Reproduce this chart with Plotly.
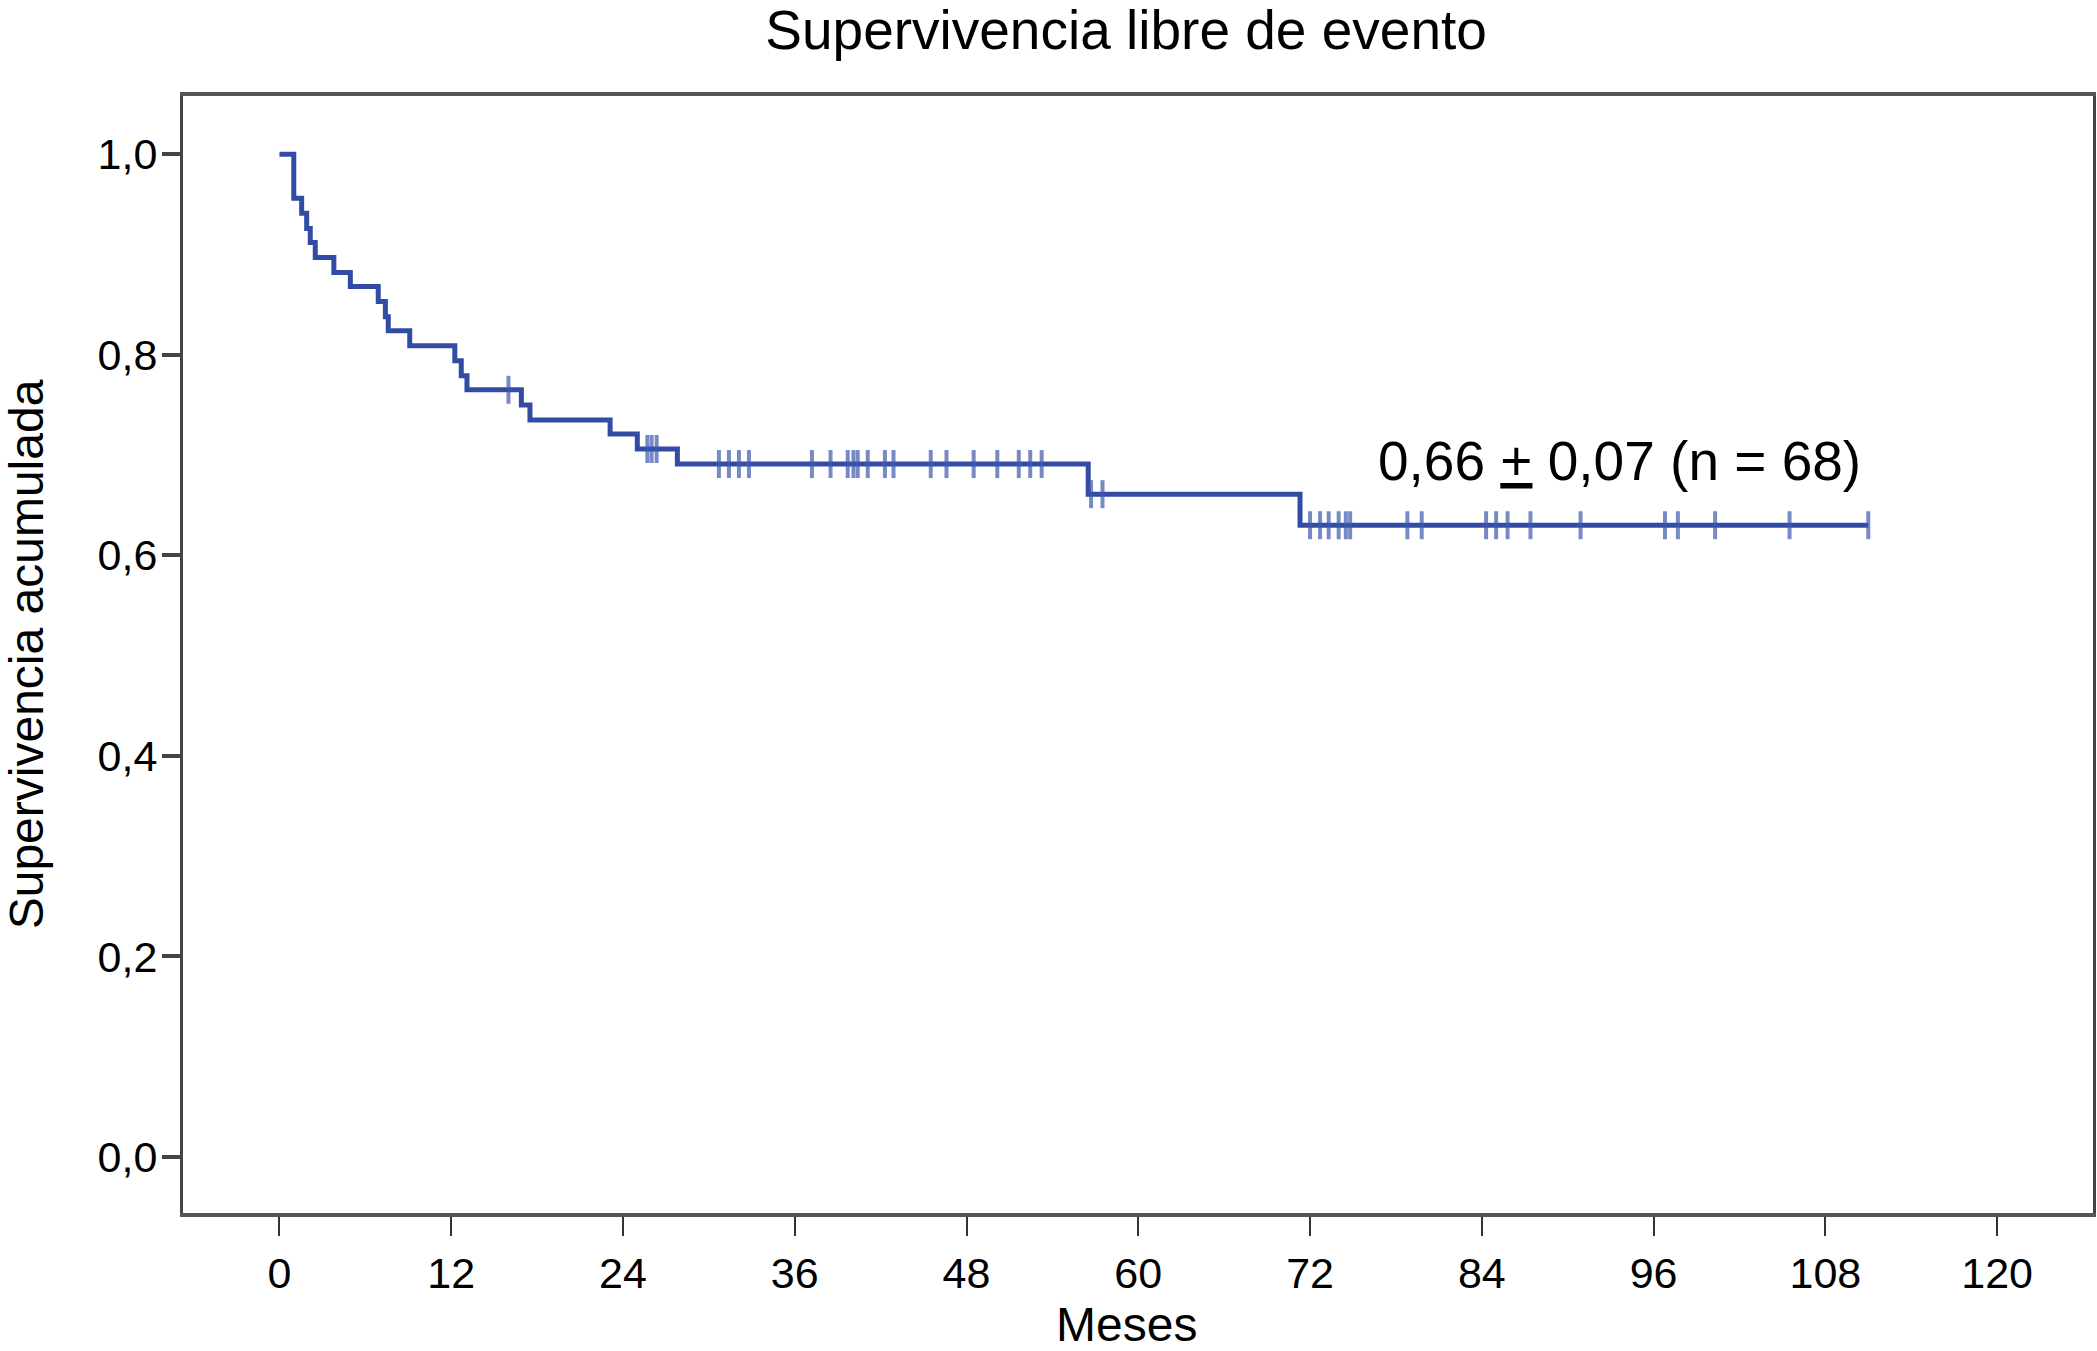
import numpy as np
import plotly.graph_objects as go

# Kaplan-Meier step data
event_times = [0, 1.0, 1.55, 1.9, 2.15, 2.5, 3.8, 4.95, 6.9, 7.4, 7.6, 9.1, 12.25, 12.7,
               13.1, 16.9, 17.5, 23.1, 25.0, 27.8, 56.5, 71.3]
survival = [1.0, 0.956, 0.941, 0.926, 0.912, 0.897, 0.882, 0.868, 0.853, 0.838, 0.824,
            0.809, 0.794, 0.779, 0.765, 0.750, 0.735, 0.721, 0.706, 0.691, 0.661, 0.630]
censored_times = [16.0, 25.7, 26.0, 26.35, 30.7, 31.4, 32.1, 32.8, 37.2, 38.5, 39.7, 40.1,
                  40.4, 41.1, 42.3, 42.9, 45.5, 46.6, 48.5, 50.15, 51.65, 52.45, 53.25,
                  56.7, 57.5, 72.0, 72.7, 73.3, 74.0, 74.5, 74.8, 78.8, 79.8, 84.3, 85.0,
                  85.8, 87.4, 90.9, 96.8, 97.7, 100.3, 105.5, 111.0]
follow_up_end = 111.0

x_tick_vals = [0, 12, 24, 36, 48, 60, 72, 84, 96, 108, 120]
x_tick_text = ["0", "12", "24", "36", "48", "60", "72", "84", "96", "108", "120"]
y_tick_vals = [0.0, 0.2, 0.4, 0.6, 0.8, 1.0]
y_tick_text = ["0,0", "0,2", "0,4", "0,6", "0,8", "1,0"]

title_text = "Supervivencia libre de evento"
x_title = "Meses"
y_title = "Supervivencia acumulada"
annot_text = "0,66 <u>+</u> 0,07 (n = 68)"

# step line
line_x = event_times + [follow_up_end]
line_y = survival + [survival[-1]]

# censor marks sit on the step curve
idx = np.searchsorted(np.array(event_times), np.array(censored_times), side="right") - 1
cens_y = [survival[i] for i in idx]

FONT = "Liberation Sans, Arial, Helvetica, sans-serif"
BLUE = "rgb(50,76,166)"

fig = go.Figure()
fig.add_trace(go.Scatter(x=line_x, y=line_y, mode="lines", line=dict(shape="hv", color=BLUE, width=5),
                         showlegend=False, hoverinfo="skip"))
fig.add_trace(go.Scatter(x=censored_times, y=cens_y, mode="markers",
                         marker=dict(symbol="line-ns", size=20,
                                     line=dict(color="rgba(60,88,172,0.7)", width=4)),
                         showlegend=False))

fig.add_annotation(x=93.6, y=0.694, xref="x", yref="y", text=annot_text, showarrow=False,
                   font=dict(family=FONT, size=55, color="black"), xanchor="center", yanchor="middle")

# x-axis title placed as a paper annotation under the tick labels
fig.add_annotation(x=0.494, y=-0.100, xref="paper", yref="paper", text=x_title, showarrow=False,
                   font=dict(family=FONT, size=48, color="black"), xanchor="center", yanchor="middle")

fig.update_layout(
    width=2097, height=1351,
    margin=dict(l=183, r=4, t=96, b=138),
    paper_bgcolor="white", plot_bgcolor="white",
    font=dict(family=FONT, color="black"),
    title=dict(text=title_text, font=dict(family=FONT, size=55, color="black"),
               x=0.537, xref="container", xanchor="center",
               y=1 - 30 / 1351, yref="container", yanchor="middle"),
    xaxis=dict(range=[-6.74, 126.7], tickvals=x_tick_vals, ticktext=x_tick_text,
               ticks="outside", ticklen=19, tickwidth=2, tickcolor="#333",
               tickfont=dict(family=FONT, size=43, color="black"),
               showgrid=False, zeroline=False,
               showline=True, linecolor="#555", linewidth=4, mirror=True,
               automargin=False),
    yaxis=dict(range=[-0.0558, 1.058], tickvals=y_tick_vals, ticktext=y_tick_text,
               ticks="outside", ticklen=18, tickwidth=4, tickcolor="#444",
               tickfont=dict(family=FONT, size=43, color="black"),
               ticklabelstandoff=-4,
               showgrid=False, zeroline=False,
               showline=True, linecolor="#444", linewidth=3, mirror=True,
               title=dict(text=y_title, font=dict(family=FONT, size=48, color="black"), standoff=44),
               automargin=False),
)

fig.write_html("out.html", config={"displayModeBar": False},
               post_script="document.body.style.margin='0';document.body.style.overflow='hidden';")
